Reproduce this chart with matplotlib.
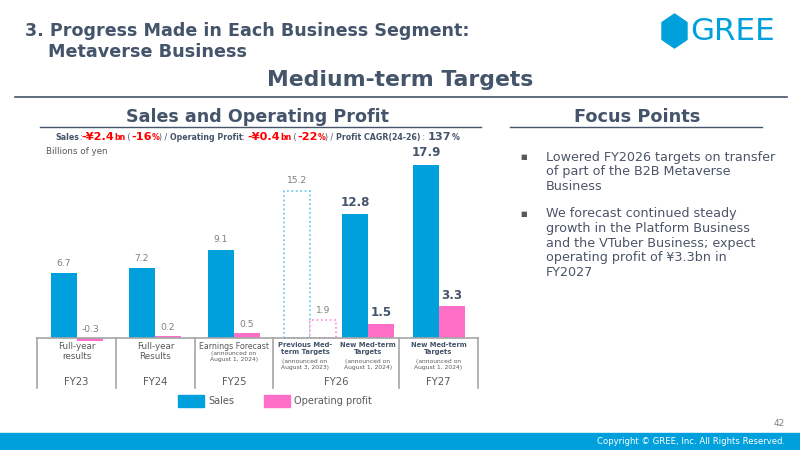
import matplotlib
matplotlib.use("Agg")
import matplotlib.pyplot as plt
from matplotlib.patches import Rectangle, Polygon
from matplotlib.lines import Line2D

# ---------------- data ----------------
fy_labels = ["FY23", "FY24", "FY25", "FY26", "FY27"]
col_titles = ["Full-year\nresults", "Full-year\nResults", "Earnings Forecast",
              "Previous Med-\nterm Targets", "New Med-term\nTargets", "New Med-term\nTargets"]
col_notes = ["", "", "(announced on\nAugust 1, 2024)", "(announced on\nAugust 3, 2023)",
             "(announced on\nAugust 1, 2024)", "(announced on\nAugust 1, 2024)"]
sales = [6.7, 7.2, 9.1, 15.2, 12.8, 17.9]
op_profit = [-0.3, 0.2, 0.5, 1.9, 1.5, 3.3]
is_previous = [False, False, False, True, False, False]
is_bold = [False, False, False, False, True, True]

# ---------------- style ----------------
BLUE = "#00a0dc"
PINK = "#ff6ec7"
DARK = "#44546a"
GRAY = "#7f7f7f"
TXT = "#595959"
RED = "#ff0000"

fig = plt.figure(figsize=(8, 4.5), dpi=100)
W, H = 800, 450
def px(x): return x / W
def py(y): return 1 - y / H

renderer = fig.canvas.get_renderer()

def fit_text(x, y, s, width_px, ha="left", **kw):
    t = fig.text(px(x), py(y), s, fontsize=10, ha=ha, **kw)
    w = t.get_window_extent(renderer).width
    t.set_fontsize(10 * width_px / w)
    return t

# --------- header ---------
fit_text(25, 31.5, "3. Progress Made in Each Business Segment:", 443, weight="bold",
         color=DARK, va="center")
fit_text(48, 52, "Metaverse Business", 199, weight="bold", color=DARK, va="center")
fit_text(400, 80, "Medium-term Targets", 266, ha="center", weight="bold", color=DARK,
         va="center")
fig.add_artist(Line2D([px(15), px(787)], [py(97), py(97)], color=DARK, lw=1.2))
fit_text(258, 117, "Sales and Operating Profit", 262, ha="center", weight="bold",
         color=DARK, va="center")
fit_text(637, 117, "Focus Points", 127, ha="center", weight="bold", color=DARK, va="center")
fig.add_artist(Line2D([px(40), px(481)], [py(127), py(127)], color=DARK, lw=1.0))
fig.add_artist(Line2D([px(510), px(762)], [py(127), py(127)], color=DARK, lw=1.0))

# logo (pointy-top hexagon drawn in pixel layout)
hx, hy, hw, hh = 674.5, 31, 25, 34
hex_pts = [(hx, hy - hh / 2), (hx + hw / 2, hy - hh / 4), (hx + hw / 2, hy + hh / 4),
           (hx, hy + hh / 2), (hx - hw / 2, hy + hh / 4), (hx - hw / 2, hy - hh / 4)]
fig.add_artist(Polygon([(px(a), py(b)) for a, b in hex_pts], closed=True, color=BLUE,
                       transform=fig.transFigure))
fit_text(690, 31, "GREE", 85, color=BLUE, va="center", family="DejaVu Sans")

# --------- subtitle with mixed runs ---------
runs = [("Sales", 5.7, DARK, "bold"), (":", 5.7, DARK, "normal"), ("-¥2.4", 8.1, RED, "bold"),
        ("bn", 5.7, RED, "bold"), (" (", 5.7, DARK, "normal"), ("-16", 8.1, RED, "bold"),
        ("%", 5.7, RED, "bold"), (") / ", 5.7, DARK, "normal"),
        ("Operating Profit", 5.7, DARK, "bold"), (": ", 5.7, DARK, "normal"),
        ("-¥0.4", 8.1, RED, "bold"), ("bn", 5.7, RED, "bold"), (" (", 5.7, DARK, "normal"),
        ("-22", 8.1, RED, "bold"), ("%", 5.7, RED, "bold"), (") / ", 5.7, DARK, "normal"),
        ("Profit CAGR(24-26)", 5.7, DARK, "bold"), (" : ", 5.7, DARK, "normal"),
        ("137", 8.1, DARK, "bold"), ("%", 5.7, DARK, "bold")]
xcur = 55
for s, fs, c, w in runs:
    t = fig.text(px(xcur), py(140), s, fontsize=fs, color=c, weight=w, va="baseline", ha="left")
    bb = t.get_window_extent(renderer)
    xcur += bb.width
fig.text(px(46), py(151), "Billions of yen", fontsize=6.3, color=TXT, va="center", ha="left")

# --------- bars ---------
unit = 78.0
c0 = 77.0
group_x = [0, 1, 2.01, 2.99, 3.73, 4.64]
bw = 26 / unit
ax = fig.add_axes([px(37), py(347.7), 441 / W, 193.4 / H])
ax.set_xlim((37 - c0) / unit, (478 - c0) / unit)
ax.set_ylim(-1, 19)
ax.axis("off")

for i, x in enumerate(group_x):
    if is_previous[i]:
        ax.bar(x - bw / 2, sales[i], bw, facecolor="white", edgecolor="#5bc4ee",
               linestyle=":", linewidth=1.2)
        ax.bar(x + bw / 2, op_profit[i], bw, facecolor="white", edgecolor="#ff8ad4",
               linestyle=":", linewidth=1.2)
    else:
        ax.bar(x - bw / 2, sales[i], bw, color=BLUE)
        ax.bar(x + bw / 2, op_profit[i], bw, color=PINK)
    if is_bold[i]:
        kw = dict(fontsize=8.6, weight="bold", color=DARK)
    else:
        kw = dict(fontsize=6.6, color=GRAY)
    ax.annotate(f"{sales[i]:.1f}", (x - bw / 2, sales[i]), xytext=(0, 4),
                textcoords="offset points", ha="center", va="bottom", **kw)
    ax.annotate(f"{op_profit[i]:.1f}", (x + bw / 2, max(op_profit[i], 0)), xytext=(0, 3),
                textcoords="offset points", ha="center", va="bottom", **kw)

# --------- table below ---------
LINE = "#a6a6a6"
fig.add_artist(Line2D([px(37), px(478)], [py(338), py(338)], color=LINE, lw=1.2))
for xv in [37, 116, 195, 273, 399, 478]:
    fig.add_artist(Line2D([px(xv), px(xv)], [py(338), py(388)], color=LINE, lw=1.2))

sub_centers = [76.5, 155.5, 234, 305, 368, 438.5]
for i, xc_px in enumerate(sub_centers):
    xc = px(xc_px)
    if i < 2:
        fig.text(xc, py(342), col_titles[i], fontsize=6.3, color=TXT, ha="center",
                 va="top", linespacing=1.2)
    elif i == 2:
        fig.text(xc, py(342), col_titles[i], fontsize=5.7, color=TXT, ha="center", va="top")
        fig.text(xc, py(351), col_notes[i], fontsize=4.3, color=TXT, ha="center",
                 va="top", linespacing=1.15)
    else:
        fig.text(xc, py(342), col_titles[i], fontsize=4.9, color=DARK, weight="bold",
                 ha="center", va="top", linespacing=1.15)
        fig.text(xc, py(359), col_notes[i], fontsize=4.3, color=TXT, ha="center",
                 va="top", linespacing=1.15)

fy_centers = [76.5, 155.5, 234, 336, 438.5]
for lab, xc in zip(fy_labels, fy_centers):
    fig.text(px(xc), py(382), lab, fontsize=7.2, color=TXT, ha="center", va="center")

# legend
fig.add_artist(Rectangle((px(178), py(407)), 26 / W, 12 / H, color=BLUE, transform=fig.transFigure))
fig.text(px(208), py(401), "Sales", fontsize=7, color=TXT, va="center", ha="left")
fig.add_artist(Rectangle((px(264), py(407)), 26 / W, 12 / H, color=PINK, transform=fig.transFigure))
fig.text(px(294), py(401), "Operating profit", fontsize=7, color=TXT, va="center", ha="left")

# --------- focus points ---------
bullets = [["Lowered FY2026 targets on transfer", "of part of the B2B Metaverse", "Business"],
           ["We forecast continued steady", "growth in the Platform Business",
            "and the VTuber Business; expect", "operating profit of ¥3.3bn in", "FY2027"]]
starts = [157, 214]
for lines, y0 in zip(bullets, starts):
    fig.text(px(524), py(y0), "■", fontsize=5, color=TXT, va="center", ha="center")
    for k, ln in enumerate(lines):
        fig.text(px(546), py(y0 + k * 14.5), ln, fontsize=9.2, color="#4a5568",
                 va="center", ha="left")

# --------- footer ---------
fig.add_artist(Rectangle((0, 0), 1, 17 / H, color=BLUE, transform=fig.transFigure))
fig.text(px(785), py(441), "Copyright © GREE, Inc. All Rights Reserved.", fontsize=6.1,
         color="white", va="center", ha="right")
fig.text(px(785), py(424), "42", fontsize=6.5, color=GRAY, va="center", ha="right")

fig.savefig("out.png", dpi=100)
